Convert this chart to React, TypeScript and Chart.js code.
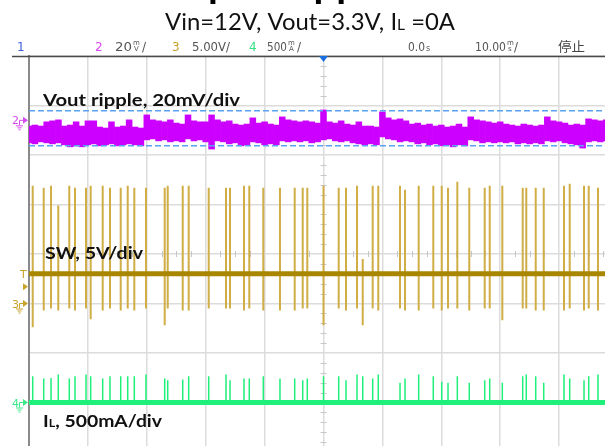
import React, { useEffect, useRef } from "react";
import { Chart, registerables } from "chart.js";

Chart.register(...registerables);

// ---- time base: 10 ms/div, trigger at 0 ms ----
const TIME_MIN = -50;
const TIME_MAX = 50;

// ---- CH3 : SW node (V), 5 V/div ----
const swIdle = 3.0;
const swTimes = [-49.37, -47.5, -46.26, -45.03, -43.16, -42.19, -40.32, -39.53, -37.49, -36.25, -34.43, -33.24, -32.12, -30.14, -26.96, -26.45, -23.9, -22.89, -19.49, -16.55, -15.87, -13.5, -12.6, -10.22, -7.39, -4.89, -3.53, -2.75, 0, 2.58, 3.82, 5.69, 6.66, 8.35, 9.3, 12.99, 13.84, 16.16, 18.64, 20.07, 21.14, 22.72, 24.75, 27.37, 28.22, 30.36, 33.82, 34.43, 36.03, 37.39, 40.83, 41.8, 44.23, 45.03, 46.6];
const swPeaks = [11.9, 11.7, 11.9, 9.9, 11.9, 11.7, 11.7, 11.9, 11.9, 11.7, 11.7, 11.9, 11.7, 11.7, 11.7, 11.9, 11.9, 11.9, 11.7, 11.7, 11.7, 11.9, 11.9, 11.7, 11.7, 11.7, 11.7, 11.7, 11.9, 11.7, 11.7, 11.9, 4.5, 11.9, 11.9, 11.9, 11.5, 11.9, 11.9, 11.9, 11.7, 12.3, 11.7, 11.7, 11.9, 11.9, 11.7, 11.7, 11.7, 11.7, 11.9, 12.1, 11.9, 11.9, 11.7];
const swTroughs = [-2.4, -0.7, -0.5, -0.7, -0.5, -0.7, -0.5, -1.6, -0.7, -0.5, -0.7, -0.5, -0.7, -0.5, -2.2, -0.5, -0.7, -0.7, -0.5, -0.5, -0.5, -0.7, -0.5, -0.7, -0.7, -0.7, -0.5, -0.5, -2.2, -0.5, -0.7, -0.5, -2.2, -0.5, -0.7, -0.5, -0.7, -0.7, -0.5, -0.7, -0.5, -0.5, -0.7, -0.5, -0.5, -1.7, -0.5, -0.5, -0.7, -0.7, -0.7, -0.5, -0.7, -0.5, -0.7];

// ---- CH4 : inductor current (mA), 500 mA/div ----
const ilIdle = 0;
const ilPeaks = [266, 242, 248, 283, 242, 266, 283, 266, 242, 266, 266, 266, 266, 283, 242, 225, 232, 266, 266, 283, 225, 242, 242, 266, 242, 242, 225, 242, 266, 266, 225, 283, 266, 242, 283, 199, 242, 283, 266, 210, 199, 266, 199, 225, 242, 199, 266, 283, 266, 199, 283, 242, 225, 266, 283];

// ---- CH2 : Vout ripple envelope (mV), 20 mV/div ----
const rippleTimes = [-50, -49, -48, -47, -46, -45, -44, -43, -42, -41, -40, -39, -38, -37, -36, -35, -34, -33, -32, -31, -30, -29, -28, -27, -26, -25, -24, -23, -22, -21, -20, -19, -18, -17, -16, -15, -14, -13, -12, -11, -10, -9, -8, -7, -6, -5, -4, -3, -2, -1, 0, 1, 2, 3, 4, 5, 6, 7, 8, 9, 10, 11, 12, 13, 14, 15, 16, 17, 18, 19, 20, 21, 22, 23, 24, 25, 26, 27, 28, 29, 30, 31, 32, 33, 34, 35, 36, 37, 38, 39, 40, 41, 42, 43, 44, 45, 46, 47, 48];
const rippleHi = [-2.3, -1.9, -2.3, -0.6, -0.2, 0.2, -2.3, -1.9, -0.6, -2.3, -0.2, -0.2, -2.7, -3.1, -0.6, -2.7, -2.3, 0.2, -2.7, -3.1, 2.2, 0.2, -0.2, -0.6, 0.2, -1.1, -1.5, 2.2, -0.2, -0.6, -0.6, 2.2, 0.2, -0.6, -0.2, -1.5, -1.9, -1.5, 1.0, -1.1, -0.6, -1.5, -1.9, 1.4, 0.2, -0.2, -0.6, -0.2, -0.6, -1.1, 4.2, -0.6, -1.1, -0.2, -1.5, -1.9, -0.6, -2.3, -2.3, -2.7, 3.4, 1.0, 0.2, 0.6, -0.2, -1.5, -1.1, -1.9, -1.5, -2.3, -1.9, -2.7, -2.3, -1.5, -2.7, 1.4, 0.2, -0.2, -0.6, -1.1, -0.6, -1.5, -1.9, -2.3, -1.5, -1.9, -2.3, -1.9, 1.4, -0.2, -0.6, -1.1, -1.9, -1.5, -1.9, 0.6, 0.2, -0.2, 0.2];
const rippleLo = [-9.1, -9.5, -8.7, -9.1, -9.5, -9.1, -9.9, -10.7, -10.3, -10.7, -9.9, -9.5, -10.3, -9.9, -9.5, -10.3, -9.9, -9.5, -9.9, -10.3, -7.9, -7.5, -8.3, -7.9, -8.7, -8.3, -8.7, -7.5, -8.3, -7.9, -8.7, -11.6, -8.3, -8.7, -9.5, -9.1, -10.3, -9.9, -8.7, -9.1, -9.9, -9.5, -9.9, -8.3, -8.7, -8.3, -8.7, -8.3, -9.1, -8.7, -7.9, -7.5, -8.3, -8.7, -8.3, -9.1, -9.5, -9.9, -9.5, -9.9, -6.7, -7.5, -7.9, -8.7, -8.3, -8.7, -9.5, -9.1, -9.9, -9.5, -10.3, -9.9, -10.7, -9.9, -10.3, -7.9, -8.3, -9.1, -8.7, -9.1, -8.7, -9.1, -8.7, -9.5, -9.1, -9.5, -9.1, -9.5, -8.3, -8.7, -8.3, -9.1, -9.5, -9.9, -11.2, -8.7, -8.3, -8.7, -8.3];
const cursorLevels = [3.9, -10.3];

// ---- channel scale settings (unit per div, ground offset in div) ----
const ch2PerDiv = 20, ch2Offset = 2.7;
const ch3PerDiv = 5, ch3Offset = -1;
const ch4PerDiv = 500, ch4Offset = -3;

const C_MAG = "#cc00ff";
const C_GOLD = "#a98600";
const C_GOLD_L = "#d0ad45";
const C_GREEN = "#1ef07a";

function fitText(ctx: CanvasRenderingContext2D, parts: { t: string; f: string; dy?: number }[], x: number, y: number, width: number | null, color: string) {
  ctx.save();
  ctx.fillStyle = color;
  ctx.textBaseline = "alphabetic";
  ctx.textAlign = "left";
  let total = 0;
  const ws = parts.map((p) => { ctx.font = p.f; const w = ctx.measureText(p.t).width; total += w; return w; });
  const s = width ? width / total : 1;
  ctx.translate(x, y);
  ctx.scale(s, 1);
  let cx = 0;
  parts.forEach((p, i) => { ctx.font = p.f; ctx.fillText(p.t, cx, p.dy || 0); cx += ws[i]; });
  ctx.restore();
}

function stacked(ctx: CanvasRenderingContext2D, a: string, b: string, x: number, y: number, color: string) {
  ctx.save();
  ctx.fillStyle = color;
  ctx.font = '7px "DejaVu Sans"';
  ctx.textAlign = "left";
  ctx.fillText(a, x, y - 6);
  ctx.fillText(b, x + 1, y);
  ctx.restore();
}

function marker(ctx: CanvasRenderingContext2D, label: string, y: number, color: string, ground: boolean) {
  ctx.save();
  ctx.fillStyle = color;
  ctx.strokeStyle = color;
  ctx.font = '11px "DejaVu Sans"';
  ctx.fillText(label, 12, y + 4);
  ctx.beginPath();
  ctx.moveTo(23, y - 3.5); ctx.lineTo(28, y); ctx.lineTo(23, y + 3.5); ctx.closePath(); ctx.fill();
  if (ground) {
    ctx.lineWidth = 1;
    ctx.beginPath();
    ctx.moveTo(19.5, y); ctx.lineTo(23, y);
    ctx.moveTo(19.5, y); ctx.lineTo(19.5, y + 5);
    ctx.moveTo(16, y + 5.5); ctx.lineTo(23, y + 5.5);
    ctx.moveTo(17.5, y + 7.5); ctx.lineTo(21.5, y + 7.5);
    ctx.moveTo(18.5, y + 9.5); ctx.lineTo(20.5, y + 9.5);
    ctx.stroke();
  }
  ctx.restore();
}

const scopeDecor = {
  id: "scopeDecor",
  beforeDatasetsDraw(chart: any) {
    const ctx = chart.ctx as CanvasRenderingContext2D;
    const xs = chart.scales.x;
    const ys = chart.scales.y;
    ctx.save();
    ctx.strokeStyle = "#c6c6c6";
    ctx.lineWidth = 1;
    const y0 = ys.getPixelForValue(0);
    for (let i = -20; i <= 20; i++) {
      if (i % 4 === 0) continue;
      const px = Math.round(xs.getPixelForValue(i * 2.5)) + 0.5;
      ctx.beginPath(); ctx.moveTo(px, y0 - 3); ctx.lineTo(px, y0 + 3); ctx.stroke();
    }
    const x0 = xs.getPixelForValue(0);
    for (let i = -20; i <= 20; i++) {
      if (i % 5 === 0) continue;
      const py = Math.round(ys.getPixelForValue(i / 5)) + 0.5;
      ctx.beginPath(); ctx.moveTo(x0 - 3, py); ctx.lineTo(x0 + 3, py); ctx.stroke();
    }
    ctx.restore();
  },
  afterDraw(chart: any) {
    const ctx = chart.ctx as CanvasRenderingContext2D;
    const xs = chart.scales.x;
    const ca = chart.chartArea;
    // cropped heading at the very top
    ctx.save();
    ctx.font = 'bold 40px Lato';
    const off = ctx.measureText("Out").width;
    ctx.fillStyle = "#000";
    ctx.fillText("Output Ripple", 208 - off, -3);
    ctx.restore();
    // title
    fitText(ctx, [
      { t: "Vin=12V, Vout=3.3V, I", f: '23px Lato' },
      { t: "L", f: '15px Lato' },
      { t: " =0A", f: '23px Lato' },
    ], 165, 30, 290, "#111");
    // header bar
    const hc = "#555";
    const hf = '12px "DejaVu Sans"';
    const hb = 51;
    fitText(ctx, [{ t: "1", f: hf }], 17, hb, null, "#3d5ee0");
    fitText(ctx, [{ t: "2", f: hf }], 95, hb, null, "#dd44f5");
    fitText(ctx, [{ t: "20", f: hf }], 115, hb, 17, hc);
    stacked(ctx, "m", "V", 133, hb, hc);
    fitText(ctx, [{ t: "/", f: hf }], 142, hb, null, hc);
    fitText(ctx, [{ t: "3", f: hf }], 172, hb, null, "#c9a02c");
    fitText(ctx, [{ t: "5.00V/", f: hf }], 192, hb, 38, hc);
    fitText(ctx, [{ t: "4", f: hf }], 249, hb, null, "#33e083");
    fitText(ctx, [{ t: "500", f: hf }], 267, hb, 20, hc);
    stacked(ctx, "m", "A", 288, hb, hc);
    fitText(ctx, [{ t: "/", f: hf }], 297, hb, null, hc);
    fitText(ctx, [{ t: "0.0", f: hf }], 408, hb, 17, hc);
    fitText(ctx, [{ t: "s", f: '8px "DejaVu Sans"' }], 426, hb, null, hc);
    fitText(ctx, [{ t: "10.00", f: hf }], 475, hb, 31, hc);
    stacked(ctx, "m", "s", 507, hb, hc);
    fitText(ctx, [{ t: "/", f: hf }], 514, hb, null, hc);
    fitText(ctx, [{ t: "停止", f: '13px "Noto Sans CJK SC"' }], 558, hb, 27, "#444");
    // top frame line
    ctx.save();
    ctx.strokeStyle = "#4a4a4a";
    ctx.lineWidth = 1.5;
    ctx.beginPath(); ctx.moveTo(12, ca.top + 0.5); ctx.lineTo(chart.width, ca.top + 0.5); ctx.stroke();
    // trigger position marker
    const tx = xs.getPixelForValue(0);
    ctx.fillStyle = "#1a6fe0";
    ctx.beginPath(); ctx.moveTo(tx - 4.5, ca.top); ctx.lineTo(tx + 4.5, ca.top); ctx.lineTo(tx, ca.top + 6); ctx.closePath(); ctx.fill();
    ctx.restore();
    // channel markers
    const yC2 = chart.scales.yC2, yC3 = chart.scales.yC3, yC4 = chart.scales.yC4;
    marker(ctx, "2", yC2.getPixelForValue(0), "#d44cf0", true);
    marker(ctx, "3", yC3.getPixelForValue(0), "#c9a22a", true);
    marker(ctx, "4", yC4.getPixelForValue(0), "#3ee88a", true);
    ctx.save();
    ctx.fillStyle = "#c9a22a";
    ctx.font = '11px "DejaVu Sans"';
    ctx.fillText("T", 20, yC3.getPixelForValue(swIdle) + 4);
    const ty = yC3.getPixelForValue(1.7);
    ctx.beginPath(); ctx.moveTo(23, ty - 3.5); ctx.lineTo(28, ty); ctx.lineTo(23, ty + 3.5); ctx.closePath(); ctx.fill();
    ctx.restore();
    // trace labels
    fitText(ctx, [{ t: "Vout ripple, 20mV/div", f: 'bold 17px Lato' }], 43, 106, 197, "#111");
    fitText(ctx, [{ t: "SW, 5V/div", f: 'bold 17px Lato' }], 45, 259, 98, "#111");
    fitText(ctx, [
      { t: "I", f: 'bold 17px Lato' },
      { t: "L", f: 'bold 11px Lato' },
      { t: ", 500mA/div", f: 'bold 17px Lato' },
    ], 43, 427, 119, "#111");
  },
};

export default function App() {
  const ref = useRef<HTMLCanvasElement>(null);
  useEffect(() => {
    const swSpikes: any[] = [];
    swTimes.forEach((t, i) => {
      swSpikes.push({ x: t, y: swTroughs[i] }, { x: t, y: swPeaks[i] }, { x: t, y: null });
    });
    const ilSpikes: any[] = [];
    swTimes.forEach((t, i) => {
      ilSpikes.push({ x: t, y: ilIdle }, { x: t, y: ilPeaks[i] }, { x: t, y: null });
    });
    const band = rippleTimes.map((t, i) => ({ x: t, y: [rippleLo[i], rippleHi[i]] }));
    const flat = (v: number) => [{ x: TIME_MIN, y: v }, { x: TIME_MAX, y: v }];

    const datasets: any[] = [
      { data: flat(swIdle), yAxisID: "yC3", borderColor: C_GOLD, borderWidth: 5 },
      { data: flat(ilIdle), yAxisID: "yC4", borderColor: C_GREEN, borderWidth: 5 },
      { data: flat(cursorLevels[0]), yAxisID: "yC2", borderColor: "#5aa2f2", borderWidth: 1.5, borderDash: [6, 3] },
      { data: flat(cursorLevels[1]), yAxisID: "yC2", borderColor: "#5aa2f2", borderWidth: 1.5, borderDash: [6, 3] },
      { type: "bar", data: band, yAxisID: "yC2", backgroundColor: C_MAG, borderWidth: 0, barPercentage: 1, categoryPercentage: 1, grouped: false },
      { data: swSpikes, yAxisID: "yC3", borderColor: C_GOLD_L, borderWidth: 2, spanGaps: false },
      { data: ilSpikes, yAxisID: "yC4", borderColor: C_GREEN, borderWidth: 1.5, spanGaps: false },
    ];

    const grid = { color: "#dcdcdc", lineWidth: 1.5, drawTicks: false };
    const chart = new Chart(ref.current as HTMLCanvasElement, {
      type: "line",
      data: { datasets },
      options: {
        responsive: false,
        animation: false,
        devicePixelRatio: 1,
        layout: { padding: { left: 29, top: 56, right: 12, bottom: 8 } },
        plugins: { legend: { display: false }, tooltip: { enabled: false }, title: { display: false } },
        elements: { point: { radius: 0 }, line: { tension: 0, fill: false } },
        scales: {
          x: { type: "linear", offset: false, min: TIME_MIN, max: TIME_MAX, ticks: { display: false, stepSize: 10 }, grid: { ...grid, offset: false }, border: { display: false } },
          y: { type: "linear", position: "left", min: -4, max: 4, ticks: { display: false, stepSize: 1 }, grid, border: { display: true, color: "#8a8a8a", width: 2 } },
          yC2: { type: "linear", display: false, min: -(4 + ch2Offset) * ch2PerDiv, max: (4 - ch2Offset) * ch2PerDiv },
          yC3: { type: "linear", display: false, min: -(4 + ch3Offset) * ch3PerDiv, max: (4 - ch3Offset) * ch3PerDiv },
          yC4: { type: "linear", display: false, min: -(4 + ch4Offset) * ch4PerDiv, max: (4 - ch4Offset) * ch4PerDiv },
        },
      } as any,
      plugins: [scopeDecor],
    });
    return () => chart.destroy();
  }, []);
  return (
    <div style={{ position: "fixed", left: 0, top: 0, width: 605, height: 446, overflow: "hidden", background: "#fff" }}>
      <canvas ref={ref} width={630} height={460} style={{ display: "block", width: 630, height: 460 }} />
    </div>
  );
}
